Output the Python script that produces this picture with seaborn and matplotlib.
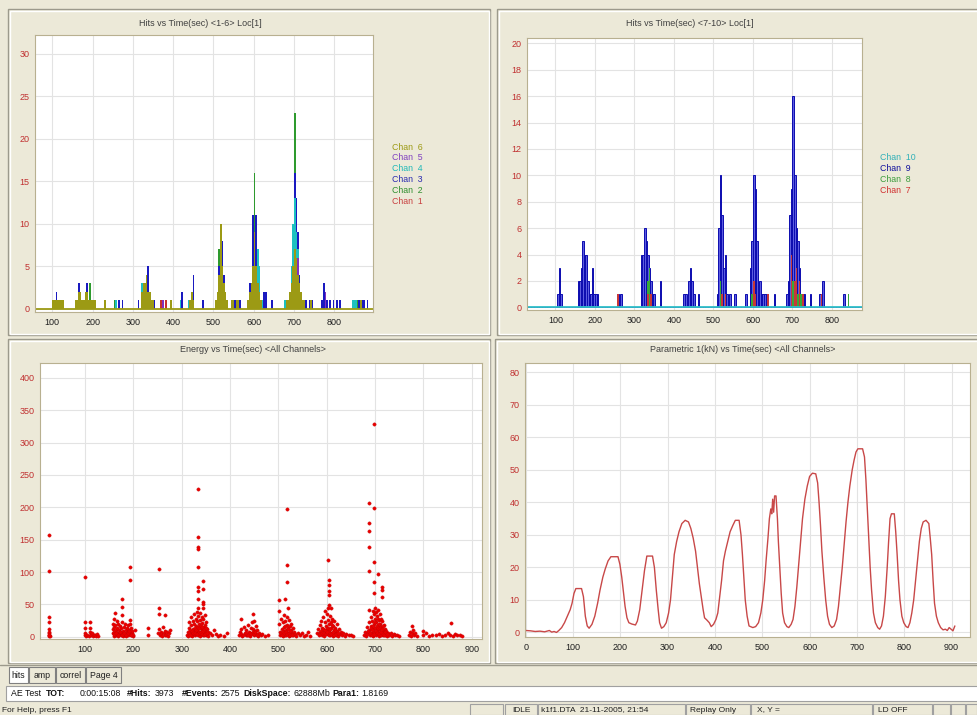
import matplotlib
matplotlib.use("Agg")
import matplotlib.pyplot as plt
from matplotlib.patches import Rectangle
import pandas as pd
import seaborn as sns

W, H = 977, 715
BG = "#ece9d8"

# ---- hits per 4 s bin, channels 1-6 (top left) ----
ch1_t = [368, 380, 704]
ch1_n = [1, 1, 1]
ch2_t = [168, 192, 252, 336, 512, 520, 600, 604, 608, 696, 700, 704, 708, 712, 856]
ch2_n = [2, 3, 1, 3, 7, 6, 16, 7, 5, 7, 23, 9, 8, 4, 1]
ch3_t = [108, 164, 184, 256, 264, 272, 312, 324, 336, 340, 352, 420, 448, 472,
         512, 520, 524, 528, 532, 552, 564, 588, 596, 604, 608, 624, 628, 644,
         684, 688, 692, 696, 700, 704, 708, 712, 720, 728, 736, 744,
         768, 772, 780, 788, 796, 804, 812, 860, 868, 872, 880]
ch3_n = [2, 3, 3, 1, 1, 1, 1, 3, 5, 2, 1, 2, 4, 1,
         5, 8, 4, 2, 1, 1, 1, 3, 11, 11, 3, 2, 2, 1,
         1, 2, 3, 8, 16, 13, 9, 4, 1, 1, 1, 1,
         1, 3, 1, 1, 1, 1, 1, 1, 1, 1, 1]
ch4_t = [256, 320, 328, 416, 436, 608, 612, 620, 676, 692, 696, 700, 704, 708, 712, 844, 848, 852]
ch4_n = [1, 3, 3, 1, 1, 7, 5, 1, 1, 5, 10, 13, 9, 7, 2, 1, 1, 1]
ch5_t = [168, 372, 516, 600, 708, 776]
ch5_n = [2, 1, 7, 2, 6, 2]
ch6_t = [100, 104, 108, 112, 116, 120, 124,
         156, 160, 164, 168, 172, 176, 180, 184, 188, 192, 196, 200, 204,
         228, 320, 324, 328, 332, 336, 340, 344, 348, 392,
         440, 444, 448, 504, 508, 512, 516, 520, 524, 528, 532,
         544, 548, 556, 560, 584, 588, 592, 596, 600, 604, 608, 612, 616,
         680, 684, 688, 692, 696, 700, 704, 708, 712, 716, 720, 724, 740, 864]
ch6_n = [1, 1, 1, 1, 1, 1, 1,
         1, 1, 2, 2, 1, 1, 2, 2, 1, 1, 1, 1, 1,
         1, 2, 3, 3, 4, 2, 2, 1, 1, 1,
         1, 2, 1, 1, 2, 4, 10, 5, 3, 2, 1,
         1, 1, 1, 1, 1, 2, 3, 5, 9, 5, 3, 2, 1,
         1, 1, 2, 3, 5, 7, 6, 4, 3, 2, 1, 1, 1, 1]

# ---- hits per 4 s bin, channels 7-10 (top right) ----
ch7_t = [256, 332, 340, 520, 528, 600, 604, 636, 696, 704, 708, 716, 724, 772]
ch7_n = [1, 1, 1, 1, 1, 2, 1, 1, 4, 2, 3, 2, 1, 1]
ch8_t = [332, 336, 516, 520, 596, 700, 704, 712, 720, 840]
ch8_n = [2, 3, 2, 1, 1, 2, 1, 1, 1, 1]
ch9_t = [104, 108, 112, 156, 160, 164, 168, 172, 176, 180, 184, 188, 192, 196, 200, 204,
         256, 264, 316, 320, 324, 328, 332, 336, 340, 344, 348, 364,
         424, 428, 436, 440, 444, 448, 460,
         508, 512, 516, 520, 524, 528, 532, 540, 552,
         580, 592, 596, 600, 604, 608, 612, 616, 620, 624, 628, 632, 652,
         684, 688, 692, 696, 700, 704, 708, 712, 716, 720, 724, 728, 744, 768, 776, 828]
ch9_n = [1, 3, 1, 2, 2, 3, 5, 4, 4, 2, 1, 1, 3, 1, 1, 1,
         1, 1, 4, 4, 6, 5, 4, 3, 2, 1, 1, 2,
         1, 1, 2, 3, 2, 1, 1,
         1, 6, 10, 7, 3, 4, 1, 1, 1,
         1, 3, 5, 10, 9, 5, 1, 2, 1, 1, 1, 1, 1,
         1, 2, 7, 9, 16, 10, 6, 5, 3, 1, 1, 1, 1, 1, 2, 1]

# ---- energy vs time, (time, energy) per burst ----
burst_030 = [(26, 157), (26, 102), (26, 31), (26, 22), (26, 12), (26, 8), (26, 5), (26, 3),
             (26, 1), (27, 0.5), (25, 2)]
burst_110 = [(100, 92), (100, 22), (100, 13), (100, 6), (101, 3), (102, 1), (105, 2), (108, 1),
             (110, 22), (110, 14), (110, 7), (112, 4), (113, 2), (115, 5), (116, 1), (118, 3),
             (120, 2), (122, 1), (124, 4), (126, 1)]
burst_180 = [(157, 20), (158, 12), (158, 5), (159, 1), (160, 28), (160, 15), (161, 8), (162, 37),
             (162, 3), (163, 18), (164, 10), (165, 2), (166, 24), (166, 14), (167, 6), (168, 1),
             (169, 20), (170, 11), (171, 4), (172, 17), (173, 8), (174, 2), (175, 13), (176, 5),
             (177, 59), (177, 46), (177, 33), (177, 22), (178, 9), (179, 1), (180, 15), (181, 6),
             (182, 3), (183, 19), (184, 10), (185, 1), (186, 14), (187, 5), (188, 8), (189, 2),
             (190, 18), (191, 11), (192, 4), (193, 108), (193, 88), (193, 26), (193, 20), (194, 7),
             (195, 2), (196, 14), (197, 5), (198, 9), (199, 1), (203, 10), (200, 3), (230, 13),
             (230, 3)]
burst_260 = [(252, 6), (254, 104), (254, 44), (254, 35), (254, 12), (255, 2), (257, 8), (258, 4),
             (260, 1), (262, 15), (263, 5), (265, 2), (266, 33), (266, 9), (268, 3), (270, 7),
             (272, 1), (274, 5), (275, 10)]
burst_335 = [(312, 3), (313, 8), (314, 1), (315, 14), (316, 22), (317, 5), (318, 10), (319, 2),
             (320, 30), (320, 18), (321, 7), (322, 1), (323, 25), (324, 12), (325, 4), (326, 35),
             (326, 20), (327, 9), (328, 2), (329, 28), (330, 16), (330, 6), (331, 38), (332, 24),
             (332, 11), (333, 228), (333, 154), (333, 139), (333, 135), (333, 107), (333, 77),
             (333, 71), (333, 59), (333, 44), (333, 3), (334, 32), (335, 19), (336, 8), (337, 1),
             (338, 36), (338, 26), (339, 13), (340, 5), (341, 30), (342, 21), (343, 10), (344, 2),
             (345, 86), (345, 74), (345, 54), (345, 50), (345, 44), (345, 27), (346, 15), (347, 6),
             (348, 33), (348, 18), (349, 9), (350, 3), (351, 22), (352, 12), (353, 4), (354, 1),
             (355, 8), (358, 5), (362, 2), (366, 10), (370, 4), (375, 1), (380, 3), (388, 1),
             (393, 6)]
burst_445 = [(418, 2), (420, 8), (422, 27), (422, 12), (423, 4), (425, 1), (428, 15), (430, 6),
             (432, 2), (434, 10), (436, 3), (438, 18), (440, 8), (442, 1), (444, 14), (446, 22),
             (446, 5), (448, 35), (448, 12), (449, 2), (450, 25), (451, 9), (453, 16), (454, 4),
             (456, 11), (458, 1), (460, 6), (463, 2), (467, 4), (472, 1), (478, 3)]
burst_520 = [(502, 57), (502, 40), (502, 20), (503, 8), (504, 2), (506, 28), (507, 12), (508, 4),
             (509, 1), (510, 22), (511, 9), (512, 33), (512, 15), (513, 3), (514, 59), (514, 25),
             (515, 10), (516, 2), (517, 198), (517, 111), (517, 85), (517, 30), (518, 18),
             (519, 6), (520, 44), (520, 13), (521, 1), (522, 26), (523, 8), (524, 16), (525, 3),
             (526, 20), (527, 11), (528, 5), (530, 14), (531, 2), (533, 8), (535, 4), (537, 1),
             (540, 6), (544, 2), (548, 5), (552, 1), (557, 3), (562, 8), (566, 1)]
burst_605 = [(580, 5), (582, 12), (584, 2), (586, 18), (587, 8), (589, 25), (590, 3), (591, 14),
             (593, 30), (594, 10), (595, 1), (596, 22), (597, 40), (598, 6), (599, 16), (600, 35),
             (601, 12), (602, 119), (602, 45), (602, 26), (603, 4), (604, 88), (604, 80),
             (604, 70), (604, 64), (604, 49), (604, 19), (605, 9), (606, 32), (607, 2), (608, 44),
             (608, 22), (609, 13), (610, 5), (611, 28), (612, 17), (613, 1), (614, 10), (615, 24),
             (616, 6), (618, 14), (619, 3), (621, 20), (622, 9), (624, 1), (625, 12), (627, 4),
             (629, 8), (631, 2), (634, 6), (637, 1), (640, 4), (645, 2), (650, 3), (655, 1)]
burst_700 = [(678, 3), (680, 8), (682, 1), (684, 15), (685, 5), (687, 22), (688, 206), (688, 176),
             (688, 163), (688, 138), (688, 102), (688, 42), (688, 10), (689, 2), (691, 30),
             (692, 16), (693, 6), (694, 25), (695, 40), (695, 12), (696, 1), (697, 328),
             (697, 199), (697, 116), (697, 85), (697, 67), (697, 35), (697, 20), (698, 8),
             (699, 45), (699, 28), (700, 14), (701, 3), (702, 38), (702, 22), (703, 10), (704, 32),
             (705, 18), (706, 97), (706, 42), (706, 5), (707, 26), (708, 12), (709, 1), (710, 35),
             (710, 20), (711, 8), (712, 28), (713, 15), (714, 77), (714, 72), (714, 61), (714, 4),
             (715, 24), (716, 10), (717, 2), (718, 18), (719, 7), (720, 12), (721, 3), (723, 9),
             (725, 1), (727, 6), (729, 3), (732, 5), (735, 1), (738, 4), (742, 2), (746, 3),
             (750, 1)]
burst_late = [(770, 3), (772, 8), (774, 1), (776, 17), (776, 5), (778, 10), (780, 2), (783, 6),
              (786, 1), (798, 9), (800, 2), (806, 5), (812, 1), (818, 3), (825, 2), (832, 4),
              (838, 1), (845, 3), (850, 5), (855, 2), (857, 21), (860, 1), (865, 4), (870, 2),
              (875, 3), (880, 1)]
# low-energy floor hits that make the solid red base of each burst
floor_hits = [(160, 4), (164, 6), (168, 3), (172, 7), (176, 2), (180, 5), (184, 3), (188, 6),
              (192, 9), (196, 3), (316, 6), (318, 3), (322, 9), (324, 6), (327, 14), (328, 5),
              (330, 11), (332, 4), (334, 15), (335, 8), (336, 13), (337, 5), (339, 7), (340, 17),
              (342, 4), (343, 15), (345, 9), (346, 3), (347, 12), (349, 4), (350, 14), (352, 6),
              (427, 3), (433, 5), (438, 3), (441, 6), (444, 4), (447, 8), (450, 4), (452, 7),
              (455, 3), (505, 5), (507, 3), (510, 8), (512, 5), (514, 16), (516, 7), (518, 4),
              (519, 12), (521, 6), (523, 3), (525, 9), (528, 2), (585, 4), (588, 9), (591, 5),
              (593, 12), (595, 5), (597, 10), (599, 4), (601, 8), (603, 14), (604, 3), (606, 12),
              (607, 6), (609, 4), (610, 18), (612, 7), (614, 3), (617, 11), (620, 4), (623, 6),
              (683, 4), (686, 9), (690, 5), (691, 13), (693, 3), (694, 10), (696, 17), (698, 4),
              (700, 22), (701, 9), (703, 16), (704, 5), (705, 28), (706, 13), (708, 4), (709, 19),
              (711, 14), (712, 3), (713, 7), (715, 12), (716, 4), (717, 16), (719, 3), (721, 8),
              (724, 4)]

# ---- parametric 1 (kN) vs time ----
load_curve = [(0, 0.6), (10, 0.5), (20, 0.3), (30, 0.4), (40, 0.2), (50, 0.6), (55, 0.1), (60, 0.3),
              (65, 0.0), (70, 0.6), (76, 1.5), (82, 3), (88, 5), (94, 7), (98, 9), (102, 12),
              (106, 13.5), (118, 13.5), (122, 11), (126, 5), (130, 2), (134, 1.3), (140, 2.5),
              (146, 5), (152, 9), (157, 13), (163, 17), (168, 19.5), (174, 22), (180, 23.3),
              (195, 23.3), (199, 21), (203, 17), (207, 12), (210, 8), (214, 4.5), (218, 3),
              (224, 2.6), (232, 2.3), (236, 3.5), (241, 7), (246, 13), (251, 19), (256, 23.5),
              (268, 23.5), (272, 20), (276, 13), (280, 7), (283, 3), (287, 1.3), (292, 1.8),
              (297, 3), (302, 6), (306, 10), (310, 17), (314, 24), (319, 28), (324, 31),
              (330, 33.5), (337, 34.5), (344, 34), (349, 32), (354, 29), (359, 25), (363, 20),
              (367, 15), (371, 11), (375, 7), (378, 4.5), (383, 3.8), (388, 3), (392, 1.8),
              (397, 2.5), (402, 4), (406, 6), (410, 11), (414, 16), (418, 22), (422, 25),
              (427, 28), (432, 31), (438, 33), (443, 34.5), (451, 34.5), (455, 30), (458, 24),
              (461, 17), (464, 10), (468, 5), (472, 2), (480, 1.5), (486, 1.8), (492, 3),
              (497, 6), (501, 10), (505, 16), (508, 22), (512, 29), (515, 35), (518, 38),
              (520, 36.5), (522, 41), (524, 37), (526, 42), (529, 42), (532, 35), (534, 28),
              (537, 20), (540, 12), (543, 6), (547, 3), (552, 1.8), (556, 1.5), (561, 2.5),
              (565, 4), (569, 8), (573, 14), (577, 21), (581, 28), (585, 35), (590, 41),
              (595, 45), (600, 48), (606, 49), (613, 48.8), (617, 46), (620, 40), (623, 33),
              (626, 25), (630, 17), (634, 10), (638, 5), (642, 2.5), (647, 1.5), (652, 2),
              (657, 4), (661, 8), (665, 14), (669, 20), (673, 27), (677, 34), (681, 40),
              (685, 45), (690, 50), (694, 53), (698, 55.5), (702, 56.5), (712, 56.5), (716, 54),
              (719, 47), (722, 38), (725, 29), (728, 20), (731, 13), (735, 6), (739, 3),
              (744, 1.5), (748, 1), (752, 2), (756, 5), (760, 11), (764, 20), (767, 28),
              (770, 35), (773, 36.5), (779, 36.5), (782, 31), (785, 24), (788, 16), (791, 10),
              (795, 5), (799, 3), (804, 1.8), (808, 1.5), (812, 3), (816, 6), (820, 10),
              (824, 16), (828, 22), (832, 28), (836, 32), (840, 34), (846, 34.5), (852, 33.5),
              (855, 29), (858, 24), (861, 16), (864, 9), (868, 5), (872, 3), (877, 1.5),
              (882, 0.8), (887, 1), (891, 0.6), (895, 1.5), (899, 1), (903, 0.5), (907, 2)]

titles = ["Hits vs Time(sec) <1-6> Loc[1]", "Hits vs Time(sec) <7-10> Loc[1]",
          "Energy vs Time(sec) <All Channels>", "Parametric 1(kN) vs Time(sec) <All Channels>"]

sns.set_style("white")
plt.rcParams["font.family"] = ["Liberation Sans", "DejaVu Sans"]

fig = plt.figure(figsize=(W / 100, H / 100), dpi=100, facecolor=BG)
bg = fig.add_axes([0, 0, 1, 1])
bg.set_xlim(0, W)
bg.set_ylim(H, 0)
bg.axis("off")
bg.set_zorder(-5)


def frame(x0, y0, x1, y1):
    bg.add_patch(Rectangle((x0, y0), x1 - x0, y1 - y0, fill=False, ec="#9c9a8c", lw=1))
    bg.add_patch(Rectangle((x0 + 1.5, y0 + 1.5), x1 - x0 - 3, y1 - y0 - 3, fill=False, ec="white", lw=1))


def panel_axes(x0, y0, x1, y1):
    return fig.add_axes([x0 / W, 1 - y1 / H, (x1 - x0) / W, (y1 - y0) / H])


def style(ax, xlim, ylim, xticks, yticks):
    ax.set_facecolor("white")
    ax.set_xlim(*xlim)
    ax.set_ylim(*ylim)
    ax.set_xticks(xticks)
    ax.set_yticks(yticks)
    ax.grid(True, color="#e3e3e3", lw=0.8)
    ax.set_axisbelow(True)
    ax.tick_params(axis="x", colors="#505050", labelcolor="#202020", labelsize=6.5,
                   length=3, width=0.6, pad=1.5)
    ax.tick_params(axis="y", colors="#505050", labelcolor="#c03030", labelsize=6.5,
                   length=3, width=0.6, pad=1)
    for s in ax.spines.values():
        s.set_color("#b8b090")
        s.set_linewidth(0.8)
    ax.set_xlabel("")
    ax.set_ylabel("")


frame(8, 9, 490, 335)
frame(497, 9, 980, 335)
frame(8, 339, 490, 663)
frame(495, 339, 980, 663)

# top left: hits channels 1-6
ax1 = panel_axes(35, 35, 373, 312)
tl = [(ch1_t, ch1_n, "#c83030"), (ch2_t, ch2_n, "#2e9a2e"), (ch3_t, ch3_n, "#1a1ac0"),
      (ch4_t, ch4_n, "#1cc0c0"), (ch5_t, ch5_n, "#8030c0"), (ch6_t, ch6_n, "#9c9a14")]
for t, n, c in tl:
    sns.histplot(x=t, weights=n, binwidth=4, binrange=(0, 900), color=c, alpha=1,
                 linewidth=0, ax=ax1)
ax1.axhline(0, color="#9c9a14", lw=1.3)
style(ax1, (57, 896), (-0.4, 32.2), range(100, 900, 100), range(0, 31, 5))

# top right: hits channels 7-10
ax2 = panel_axes(527, 38, 862, 310)
sns.histplot(x=ch9_t, weights=ch9_n, binwidth=4, binrange=(0, 900), color="#5c5ce0", alpha=1,
             edgecolor="#0c0cb0", linewidth=0.7, ax=ax2)
sns.histplot(x=ch8_t, weights=ch8_n, binwidth=4, binrange=(0, 900), color="#38a838", alpha=1,
             linewidth=0, ax=ax2)
sns.histplot(x=ch7_t, weights=ch7_n, binwidth=4, binrange=(0, 900), color="#c83838", alpha=1,
             linewidth=0, ax=ax2)
ax2.axhline(0, color="#30c0c8", lw=1.3)
style(ax2, (28, 876), (-0.2, 20.4), range(100, 900, 100), range(0, 21, 2))

# bottom left: energy scatter
bursts = burst_030 + burst_110 + burst_180 + burst_260 + burst_335 + burst_445 + \
         burst_520 + burst_605 + burst_700 + burst_late + floor_hits
energy = pd.DataFrame(bursts, columns=["time", "energy"])
ax3 = panel_axes(40, 363, 482, 639)
sns.scatterplot(data=energy, x="time", y="energy", color="#e80000", edgecolor="#c00000",
                s=6, linewidth=0.2, ax=ax3)
style(ax3, (7, 921), (-3.5, 423), range(100, 1000, 100), range(0, 401, 50))

# bottom right: parametric load
load = pd.DataFrame(load_curve, columns=["time", "kN"])
ax4 = panel_axes(525, 363, 970, 637)
sns.lineplot(data=load, x="time", y="kN", color="#c84848", lw=1, estimator=None, sort=False, ax=ax4)
style(ax4, (-1.5, 939), (-1.4, 82.9), range(0, 1000, 100), range(0, 81, 10))

# panel titles
for (x, y), s in zip([(200, 23), (690, 24), (253, 350), (743, 350)], titles):
    bg.text(x, y, s, ha="center", va="center", fontsize=6.5, color="#404040")

# legends
legend_tl = [("Chan  6", "#9c9a14"), ("Chan  5", "#8040c0"), ("Chan  4", "#20b8b8"),
             ("Chan  3", "#2a2ab0"), ("Chan  2", "#2e8e2e"), ("Chan  1", "#c84040")]
for i, (s, c) in enumerate(legend_tl):
    bg.text(392, 147 + i * 10.8, s, fontsize=6.3, color=c, va="center")
legend_tr = [("Chan  10", "#30b0b8"), ("Chan  9", "#10109c"), ("Chan  8", "#3c9c3c"),
             ("Chan  7", "#d03030")]
for i, (s, c) in enumerate(legend_tr):
    bg.text(880, 158 + i * 10.7, s, fontsize=6.3, color=c, va="center")

# tab strip
bg.plot([0, W], [665, 665], color="#9c9a8c", lw=1)
tabs = [("hits", 9, 28), ("amp", 29, 55), ("correl", 56, 85), ("Page 4", 86, 121)]
for s, x0, x1 in tabs:
    bg.add_patch(Rectangle((x0, 667), x1 - x0, 16, fc="white" if s == "hits" else BG,
                           ec="#808080", lw=0.8))
    bg.text((x0 + x1) / 2, 675, s, ha="center", va="center", fontsize=6.3, color="#202020")

# info line
bg.add_patch(Rectangle((6, 686), W, 15, fc="white", ec="#a0a0a0", lw=0.8))
info = [("AE Test", 11, False), ("TOT:", 46, True), ("0:00:15:08", 80, False),
        ("#Hits:", 127, True), ("3973", 155, False), ("#Events:", 182, True),
        ("2575", 221, False), ("DiskSpace:", 243, True), ("62888Mb", 293, False),
        ("Para1:", 332, True), ("1.8169", 361, False)]
for s, x, b in info:
    bg.text(x, 693.5, s, fontsize=6.3, va="center", color="#101010",
            fontweight="bold" if b else "normal")

# status bar
bg.text(2, 710, "For Help, press F1", fontsize=6, va="center", color="#202020")
panes = [(470, 503), (505, 537), (538, 685), (686, 750), (751, 872), (873, 932),
         (933, 950), (951, 965), (966, 977)]
for x0, x1 in panes:
    bg.add_patch(Rectangle((x0, 704), x1 - x0, 11, fill=False, ec="#a0a0a0", lw=0.8))
for s, x in [("IDLE", 512), ("k1f1.DTA  21-11-2005, 21:54", 541), ("Replay Only", 690),
             ("X, Y =", 757), ("LD OFF", 878)]:
    bg.text(x, 710, s, fontsize=6, va="center", color="#202020")

fig.savefig("out.png", dpi=100, facecolor=BG)
